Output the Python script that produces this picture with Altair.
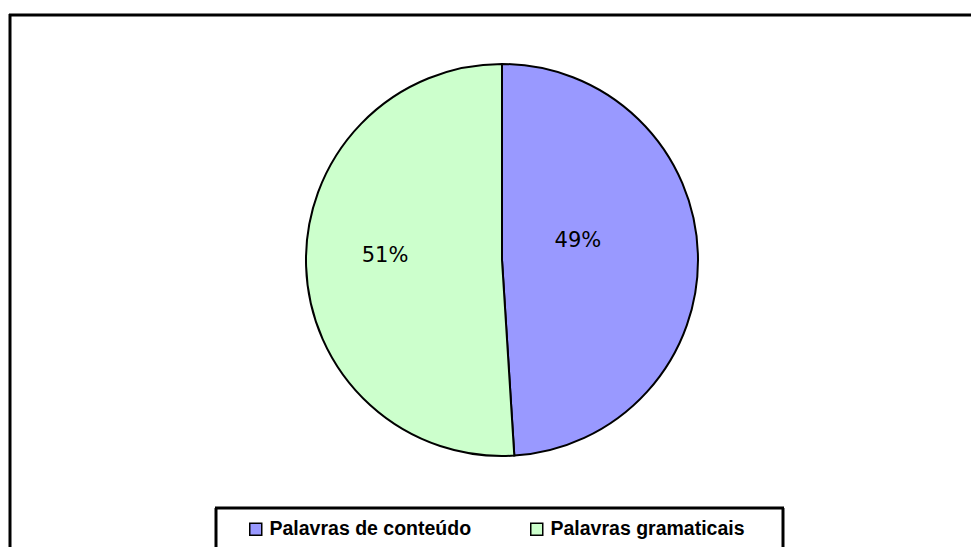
import altair as alt
import pandas as pd

categories = ["Palavras de conteúdo", "Palavras gramaticais"]
values = [49, 51]
labels = ["49%", "51%"]
colors = ["#9999FF", "#CCFFCC"]

df = pd.DataFrame({"cat": categories, "val": values, "label": labels, "ord": [0, 1]})
dummy = pd.DataFrame({"a": [0]})

CX, CY, R = 494, 252, 196


def rule(x, x2, y, y2):
    return alt.Chart(dummy).mark_rule(color="black", strokeWidth=3, strokeCap="butt").encode(
        x=alt.value(x), x2=alt.value(x2), y=alt.value(y), y2=alt.value(y2)
    )


frame = [rule(1, 1100, 7, 7), rule(2, 2, 6, 700)]
legbox = [rule(207, 776, 500, 500), rule(208, 208, 500, 700), rule(775, 775, 500, 700)]

pie = alt.Chart(df).mark_arc(outerRadius=R, stroke="black", strokeWidth=2).encode(
    theta=alt.Theta("val:Q", stack=True),
    order=alt.Order("ord:Q"),
    color=alt.Color(
        "cat:N",
        scale=alt.Scale(domain=categories, range=colors),
        legend=alt.Legend(
            title=None,
            orient="none",
            direction="horizontal",
            legendX=238,
            legendY=511,
            symbolType="square",
            symbolSize=144,
            symbolStrokeColor="black",
            symbolStrokeWidth=1.5,
            symbolOpacity=1,
            labelFont="Liberation Sans",
            labelFontWeight="bold",
            labelFontSize=19.5,
            labelColor="black",
            columnPadding=55,
            labelLimit=400,
        ),
    ),
    x=alt.value(CX),
    y=alt.value(CY),
)


def lbl(text, dx, dy):
    return alt.Chart(df).mark_text(
        radius=100, font="DejaVu Sans", fontSize=21, color="black", dx=dx, dy=dy
    ).encode(
        theta=alt.Theta("val:Q", stack=True),
        order=alt.Order("ord:Q"),
        text="label:N",
        x=alt.value(CX),
        y=alt.value(CY),
        opacity=alt.condition(alt.datum.label == text, alt.value(1), alt.value(0)),
    )


chart = alt.layer(*frame, *legbox, pie, lbl("49%", -24, -16), lbl("51%", -17, -7)).properties(
    width=963, height=539, padding=0, autosize=alt.AutoSizeParams(type="none")
).configure_view(stroke=None)

chart.save("out.html", embed_options={"renderer": "svg", "actions": False})
